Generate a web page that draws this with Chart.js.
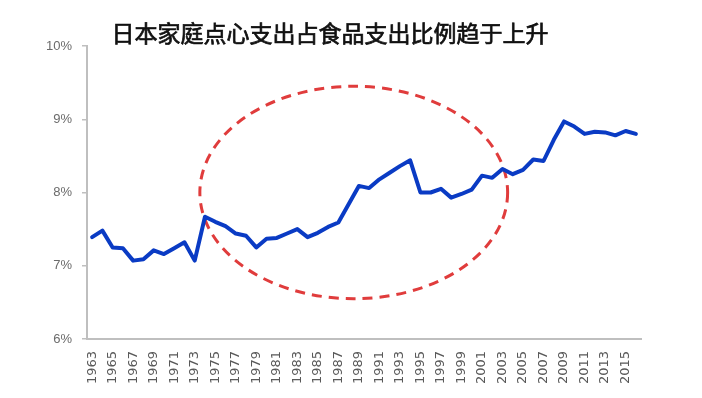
<!DOCTYPE html>
<html>
<head>
<meta charset="utf-8">
<script src="https://cdn.jsdelivr.net/npm/chart.js@4/dist/chart.umd.min.js"></script>
<style>
html,body{margin:0;padding:0;background:#fff;}
#wrap{width:702px;height:398px;position:relative;}
</style>
</head>
<body>
<div id="wrap"><canvas id="c" width="702" height="398"></canvas></div>
<script>
const titleText = "日本家庭点心支出占食品支出比例趋于上升";
const years = [1963,1964,1965,1966,1967,1968,1969,1970,1971,1972,1973,1974,1975,1976,1977,1978,1979,1980,1981,1982,1983,1984,1985,1986,1987,1988,1989,1990,1991,1992,1993,1994,1995,1996,1997,1998,1999,2000,2001,2002,2003,2004,2005,2006,2007,2008,2009,2010,2011,2012,2013,2014,2015,2016];
const snackShare = [7.39,7.48,7.25,7.24,7.07,7.09,7.21,7.16,7.24,7.32,7.07,7.67,7.60,7.54,7.44,7.41,7.25,7.37,7.38,7.44,7.50,7.39,7.45,7.53,7.59,7.84,8.09,8.06,8.18,8.27,8.36,8.44,8.00,8.00,8.05,7.93,7.98,8.04,8.23,8.20,8.32,8.25,8.31,8.45,8.43,8.72,8.97,8.90,8.80,8.83,8.82,8.78,8.84,8.80];
const yTicks = [6,7,8,9,10];

// annotation ellipse, in data units (centre year, centre value, radii)
const ellipseSpec = {cYear: 1988.5, cValue: 8.0, rYears: 15.0, rValue: 1.45};

const titlePlugin = {
  id: 'titleText',
  afterDraw(chart) {
    const ctx = chart.ctx;
    ctx.save();
    ctx.font = '23px "Noto Sans CJK SC"';
    ctx.fillStyle = '#111';
    ctx.strokeStyle = '#111';
    ctx.lineWidth = 0.7;
    ctx.textAlign = 'center';
    ctx.textBaseline = 'middle';
    ctx.fillText(titleText, 330, 33);
    ctx.strokeText(titleText, 330, 33);
    ctx.restore();
  }
};

const ellipsePlugin = {
  id: 'ellipse',
  beforeDatasetsDraw(chart) {
    const x = chart.scales.x, y = chart.scales.y;
    const i0 = ellipseSpec.cYear - years[0];
    const cx = x.getPixelForValue(i0);
    const rx = x.getPixelForValue(i0 + ellipseSpec.rYears) - cx;
    const cy = y.getPixelForValue(ellipseSpec.cValue);
    const ry = cy - y.getPixelForValue(ellipseSpec.cValue + ellipseSpec.rValue);
    const ctx = chart.ctx;
    ctx.save();
    ctx.strokeStyle = '#e03c3c';
    ctx.lineWidth = 3;
    ctx.setLineDash([10, 7]);
    ctx.beginPath();
    ctx.ellipse(cx, cy, rx, ry, 0, 0, Math.PI * 2);
    ctx.stroke();
    ctx.restore();
  }
};

new Chart(document.getElementById('c'), {
  type: 'line',
  data: {
    labels: years.map(String),
    datasets: [{
      data: snackShare,
      borderColor: '#0a3bc4',
      borderWidth: 4,
      pointRadius: 0,
      tension: 0,
      fill: false,
      borderJoinStyle: 'round',
      borderCapStyle: 'round'
    }]
  },
  options: {
    responsive: false,
    animation: false,
    devicePixelRatio: 1,
    layout: {padding: {top: 46, right: 61, bottom: 0, left: 0}},
    plugins: {legend: {display: false}, tooltip: {enabled: false}, title: {display: false}},
    scales: {
      x: {
        type: 'category',
        offset: true,
        grid: {display: false, drawTicks: false},
        border: {display: true, color: '#bfbfbf', width: 2},
        ticks: {
          autoSkip: false,
          maxRotation: 90,
          minRotation: 90,
          padding: 12,
          color: '#595959',
          font: {family: 'DejaVu Sans', size: 13},
          callback: function(v, i) { return ((years[i] - years[0]) % 2 === 0) ? String(years[i]) : ''; }
        },
        afterFit(s) { s.height = 59; }
      },
      y: {
        min: 6, max: 10,
        afterBuildTicks(s) { s.ticks = yTicks.map(v => ({value: v})); },
        grid: {display: true, drawOnChartArea: false, drawTicks: true, tickLength: 5, color: '#bfbfbf', lineWidth: 1.5},
        border: {display: true, color: '#bfbfbf', width: 2},
        ticks: {
          padding: 10,
          color: '#6b6b6b',
          font: {family: 'Liberation Sans', size: 13},
          callback: v => v + '%'
        },
        afterFit(s) { s.width = 87; }
      }
    }
  },
  plugins: [ellipsePlugin, titlePlugin]
});
</script>
</body>
</html>
